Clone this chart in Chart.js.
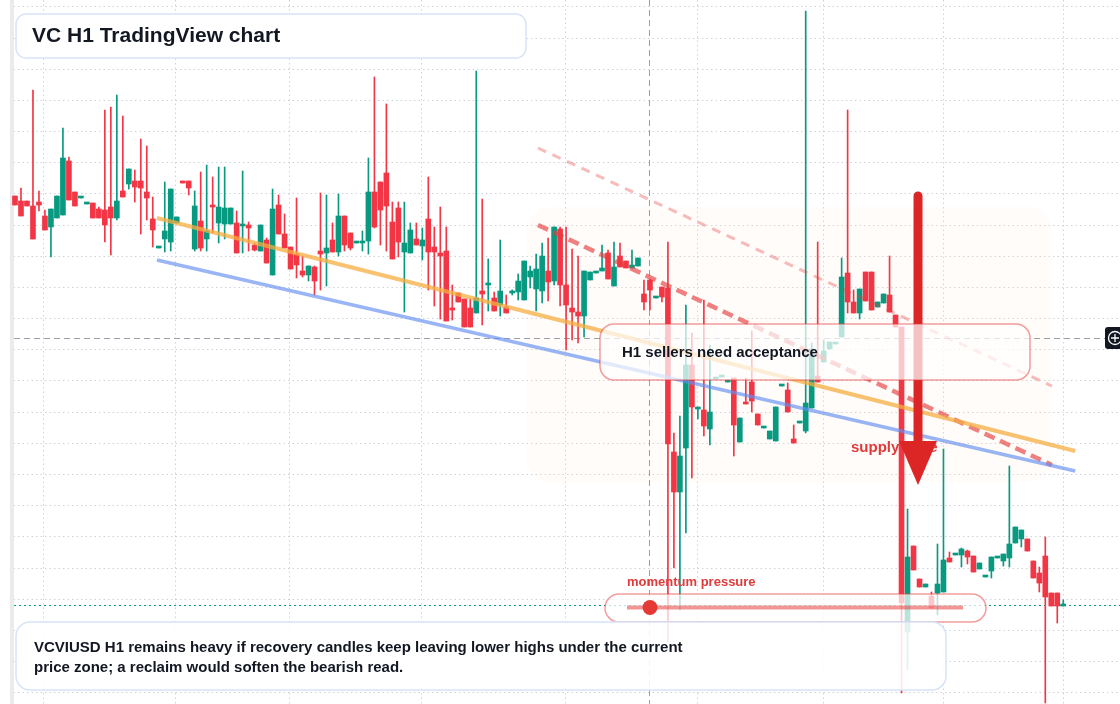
<!DOCTYPE html>
<html>
<head>
<meta charset="utf-8">
<script src="https://cdn.jsdelivr.net/npm/chart.js@4.4.1/dist/chart.umd.min.js"></script>
<style>
  html, body { margin: 0; padding: 0; background: #ffffff; }
  #wrap { width: 1120px; height: 704px; }
</style>
</head>
<body>
<div id="wrap"><canvas id="vcChart" width="1120" height="704"></canvas></div>
<script>
// VCVIUSD H1 candles (price units are arbitrary, no axis shown)
const opens = [
  .804, .799, .799, .794, .798, .784, .773, .782, .785, .839, .808, .802, .796, .797, .791, .790, .793, .782, .809, .816,
  .819, .819, .808, .781, .752, .761, .758, .777, .819, .819, .751, .779, .761, .794, .777, .776, .776, .777, .774, .775,
  .755, .749, .760, .725, .795, .766, .753, .746, .729, .725, .733, .749, .747, .760, .748, .784, .767, .757, .757, .759,
  .808, .818, .827, .778, .792, .748, .747, .761, .754, .781, .753, .747, .749, .692, .707, .701, .692, .687, .709, .715,
  .702, .695, .693, .707, .708, .700, .723, .711, .709, .729, .719, .771, .715, .692, .688, .684, .720, .727, .729, .747,
  .714, .744, .739, .732, .734, .706, .720, .702, .713, .712, .548, .508, .552, .635, .591, .590, .571, .621, .623, .618,
  .622, .558, .598, .618, .586, .572, .561, .559, .614, .610, .561, .577, .569, .592, .624, .638, .651, .656, .663, .727,
  .698, .687, .728, .728, .693, .697, .705, .685, .673, .368, .454, .421, .413, .404, .407, .408, .442, .445, .445, .449,
  .444, .431, .423, .429, .442, .439, .442, .457, .461, .461, .439, .427, .444, .407, .407, .394
];
const highs = [
  .804, .812, .799, .910, .809, .790, .791, .804, .872, .843, .808, .802, .796, .797, .793, .890, .893, .905, .884, .831,
  .830, .861, .854, .803, .752, .818, .811, .783, .819, .819, .809, .828, .835, .823, .833, .833, .792, .789, .829, .778,
  .757, .775, .762, .811, .805, .786, .753, .802, .744, .734, .734, .807, .805, .777, .806, .784, .767, .757, .769, .842,
  .923, .818, .896, .798, .798, .798, .777, .777, .772, .823, .773, .793, .773, .715, .707, .701, .701, .929, .801, .741,
  .708, .760, .705, .710, .726, .739, .734, .746, .757, .762, .773, .773, .773, .751, .744, .729, .728, .727, .755, .750,
  .758, .757, .739, .750, .742, .720, .721, .702, .713, .758, .567, .584, .695, .667, .593, .700, .655, .621, .623, .618,
  .622, .582, .622, .669, .586, .572, .569, .593, .614, .617, .575, .577, .989, .657, .758, .660, .658, .656, .742, .890,
  .710, .711, .728, .728, .698, .706, .744, .685, .673, .491, .454, .421, .416, .408, .456, .551, .448, .445, .452, .450,
  .444, .437, .423, .443, .442, .446, .534, .473, .470, .461, .439, .433, .463, .407, .407, .400
];
const lows = [
  .795, .784, .794, .761, .789, .770, .743, .782, .785, .800, .794, .802, .796, .782, .782, .758, .745, .780, .803, .811,
  .798, .766, .780, .753, .752, .748, .749, .777, .817, .805, .749, .749, .749, .767, .757, .761, .776, .747, .747, .749,
  .749, .749, .737, .725, .766, .752, .731, .722, .723, .719, .705, .710, .714, .748, .744, .749, .750, .757, .749, .746,
  .772, .755, .749, .741, .743, .688, .747, .755, .740, .710, .694, .681, .679, .680, .698, .673, .673, .687, .675, .689,
  .689, .684, .687, .705, .700, .700, .712, .689, .697, .699, .715, .694, .650, .660, .657, .663, .720, .727, .729, .721,
  .714, .733, .732, .732, .734, .690, .690, .702, .698, .358, .432, .390, .467, .522, .581, .564, .555, .621, .623, .618,
  .544, .558, .596, .588, .575, .572, .561, .559, .614, .588, .557, .577, .567, .592, .618, .638, .651, .656, .663, .687,
  .687, .681, .699, .690, .693, .697, .688, .673, .307, .330, .430, .413, .413, .392, .385, .408, .438, .445, .433, .436,
  .428, .431, .423, .422, .442, .434, .433, .457, .453, .449, .422, .408, .297, .394, .377, .394
];
const closes = [
  .795, .784, .794, .761, .795, .770, .791, .804, .842, .800, .794, .802, .796, .782, .782, .775, .782, .799, .803, .831,
  .813, .812, .802, .770, .752, .769, .811, .783, .817, .812, .794, .752, .769, .793, .793, .792, .792, .747, .774, .772,
  .750, .775, .737, .791, .766, .752, .731, .735, .725, .734, .719, .746, .752, .748, .784, .755, .752, .757, .758, .808,
  .773, .790, .794, .741, .758, .757, .770, .755, .760, .748, .748, .744, .679, .690, .698, .673, .673, .702, .706, .717,
  .689, .709, .687, .709, .719, .739, .729, .731, .744, .718, .773, .715, .695, .688, .684, .729, .728, .727, .732, .721,
  .733, .733, .732, .735, .742, .698, .710, .702, .703, .556, .508, .544, .635, .593, .593, .574, .588, .621, .623, .618,
  .575, .582, .596, .599, .575, .572, .569, .593, .614, .588, .557, .577, .597, .651, .618, .649, .658, .656, .723, .698,
  .687, .711, .699, .690, .698, .706, .688, .673, .397, .443, .430, .413, .416, .392, .416, .440, .438, .445, .451, .443,
  .428, .437, .423, .443, .442, .446, .456, .473, .470, .449, .422, .417, .403, .394, .394, .395
];

// drawn levels (bar index, price)
const upperTrend = [{ x: 23.7, y: 0.782 }, { x: 177.0, y: 0.549 }];
const lowerTrend = [{ x: 23.7, y: 0.740 }, { x: 177.0, y: 0.529 }];
const sellerLine = [{ x: 87.3, y: 0.775 }, { x: 173.1, y: 0.535 }];
const sellerLineFaint = [{ x: 87.3, y: 0.852 }, { x: 173.1, y: 0.614 }];
const zone = { from: 85.5, to: 173.1, high: 0.793, low: 0.518 };
const arrow = { x: 150.75, from: 0.804, to: 0.515 };
const crosshair = { x: 105.9, y: 0.662 };

// tick positions for the grid (time separators, price steps)
const timeGrid = [4.72, 26.76, 45.79, 67.90, 91.82, 113.97, 134.94, 154.97, 175.0];
const priceGrid = [];
for (let n = -2; n <= 20; n++) priceGrid.push(0.9307 - 0.03117 * n);

const upColor = "#089981";
const downColor = "#f23645";
const candleColors = opens.map((o, i) => (closes[i] >= o ? upColor : downColor));
const wickData = opens.map((o, i) => ({ x: i, y: [lows[i], highs[i]] }));
const bodyData = opens.map((o, i) => ({ x: i, y: [o, closes[i]] }));

const font = '"Liberation Sans", Arial, sans-serif';

const overlay = {
  id: "overlay",
  beforeDatasetsDraw(chart) {
    const { ctx } = chart;
    const xs = chart.scales.x, ys = chart.scales.y;
    ctx.save();
    ctx.fillStyle = "#ffffff";
    ctx.fillRect(0, 0, 10, 704);
    ctx.fillStyle = "#ebebeb";
    ctx.fillRect(10, 0, 4, 704);

    // zone
    const zx1 = xs.getPixelForValue(zone.from), zx2 = xs.getPixelForValue(zone.to);
    const zy1 = ys.getPixelForValue(zone.high), zy2 = ys.getPixelForValue(zone.low);
    ctx.fillStyle = "rgba(255, 232, 212, 0.14)";
    ctx.beginPath();
    ctx.roundRect(zx1, zy1, zx2 - zx1, zy2 - zy1, 24);
    ctx.fill();

    // crosshair
    ctx.strokeStyle = "#9a9ea8";
    ctx.lineWidth = 1;
    ctx.setLineDash([6, 4]);
    const cx = Math.round(xs.getPixelForValue(crosshair.x)) + 0.5;
    const cy = Math.round(ys.getPixelForValue(crosshair.y)) + 0.5;
    ctx.beginPath();
    ctx.moveTo(cx, 0); ctx.lineTo(cx, 704);
    ctx.moveTo(14, cy); ctx.lineTo(1105, cy);
    ctx.stroke();

    // last price
    const ly = Math.round(ys.getPixelForValue(closes[closes.length - 1])) + 0.5;
    ctx.strokeStyle = upColor;
    ctx.setLineDash([2, 3]);
    ctx.beginPath();
    ctx.moveTo(14, ly); ctx.lineTo(1120, ly);
    ctx.stroke();
    ctx.restore();
  },
  afterDatasetsDraw(chart) {
    const { ctx } = chart;
    const xs = chart.scales.x, ys = chart.scales.y;
    ctx.save();
    ctx.textBaseline = "middle";

    // supply zone label, under the arrow
    ctx.fillStyle = "#e03b3b";
    ctx.font = "bold 15px " + font;
    ctx.fillText("supply zone", 851, 448);

    // arrow
    const ax = xs.getPixelForValue(arrow.x);
    const ay1 = ys.getPixelForValue(arrow.from);
    const ay2 = ys.getPixelForValue(arrow.to);
    ctx.strokeStyle = "#dc2626";
    ctx.fillStyle = "#dc2626";
    ctx.lineWidth = 9;
    ctx.lineCap = "round";
    ctx.beginPath();
    ctx.moveTo(ax, ay1); ctx.lineTo(ax, ay2 - 42);
    ctx.stroke();
    ctx.beginPath();
    ctx.moveTo(ax - 19, ay2 - 44);
    ctx.lineTo(ax + 19, ay2 - 44);
    ctx.lineTo(ax, ay2);
    ctx.closePath();
    ctx.fill();

    // note box
    ctx.lineWidth = 1.5;
    ctx.fillStyle = "rgba(255,255,255,0.72)";
    ctx.strokeStyle = "rgba(229,62,62,0.5)";
    ctx.beginPath();
    ctx.roundRect(600, 324, 430, 56, 14);
    ctx.fill(); ctx.stroke();
    ctx.fillStyle = "#131722";
    ctx.font = "bold 15px " + font;
    ctx.fillText("H1 sellers need acceptance", 622, 353);

    // momentum gauge
    ctx.fillStyle = "#e03b3b";
    ctx.font = "bold 13px " + font;
    ctx.fillText("momentum pressure", 627, 582);
    ctx.fillStyle = "rgba(255,255,255,0.72)";
    ctx.strokeStyle = "rgba(229,62,62,0.5)";
    ctx.beginPath();
    ctx.roundRect(605, 594, 381, 28, 14);
    ctx.fill(); ctx.stroke();
    ctx.strokeStyle = "rgba(229,62,62,0.55)";
    ctx.lineWidth = 4;
    ctx.lineCap = "butt";
    ctx.beginPath();
    ctx.moveTo(627, 607.5); ctx.lineTo(963, 607.5);
    ctx.stroke();
    ctx.fillStyle = "#e53935";
    ctx.beginPath();
    ctx.arc(650, 607.5, 7.5, 0, Math.PI * 2);
    ctx.fill();

    // bottom comment
    ctx.lineWidth = 1.5;
    ctx.fillStyle = "rgba(255,255,255,0.88)";
    ctx.strokeStyle = "#d8e4f8";
    ctx.beginPath();
    ctx.roundRect(16, 622, 930, 68, 14);
    ctx.fill(); ctx.stroke();
    ctx.fillStyle = "#131722";
    ctx.font = "bold 15px " + font;
    ctx.fillText("VCVIUSD H1 remains heavy if recovery candles keep leaving lower highs under the current", 34, 648);
    ctx.fillText("price zone; a reclaim would soften the bearish read.", 34, 668);

    // title
    ctx.fillStyle = "#ffffff";
    ctx.strokeStyle = "#d8e4f8";
    ctx.beginPath();
    ctx.roundRect(16, 14, 510, 44, 10);
    ctx.fill(); ctx.stroke();
    ctx.fillStyle = "#131722";
    ctx.font = "bold 21px " + font;
    ctx.fillText("VC H1 TradingView chart", 32, 36);

    // crosshair badge
    ctx.fillStyle = "#131722";
    ctx.beginPath();
    ctx.roundRect(1105, 327, 20, 22, 3);
    ctx.fill();
    ctx.strokeStyle = "#ffffff";
    ctx.lineWidth = 1.3;
    ctx.beginPath();
    ctx.arc(1115, 338, 6.5, 0, Math.PI * 2);
    ctx.moveTo(1111, 338); ctx.lineTo(1119, 338);
    ctx.moveTo(1115, 334); ctx.lineTo(1115, 342);
    ctx.stroke();
    ctx.restore();
  },
};

const gridOpts = { color: "rgba(190,195,205,0.75)", lineWidth: 1, drawTicks: false, offset: false };

new Chart(document.getElementById("vcChart"), {
  type: "bar",
  data: {
    datasets: [
      { type: "line", data: upperTrend, borderColor: "rgba(246,173,66,0.75)", borderWidth: 4, pointRadius: 0, order: 0 },
      { type: "line", data: lowerTrend, borderColor: "rgba(99,142,240,0.65)", borderWidth: 3.5, pointRadius: 0, order: 0 },
      { type: "line", data: sellerLine, borderColor: "rgba(229,62,62,0.65)", borderWidth: 4.5, borderDash: [11, 6], pointRadius: 0, order: 0 },
      { type: "line", data: sellerLineFaint, borderColor: "rgba(229,62,62,0.35)", borderWidth: 3, borderDash: [9, 7], pointRadius: 0, order: 0 },
      { data: bodyData, backgroundColor: candleColors, barThickness: 5, minBarLength: 2, grouped: false, order: 1 },
      { data: wickData, backgroundColor: candleColors, barThickness: 1, grouped: false, order: 2 },
    ],
  },
  options: {
    responsive: false,
    devicePixelRatio: 1,
    animation: false,
    events: [],
    layout: { padding: 0 },
    plugins: { legend: { display: false }, tooltip: { enabled: false } },
    scales: {
      x: {
        type: "linear",
        min: -2.504,
        max: 184.47,
        offset: false,
        grid: gridOpts,
        border: { display: false, dash: [1.5, 3] },
        ticks: { display: false },
        afterBuildTicks: (s) => { s.ticks = timeGrid.map((v) => ({ value: v })); },
      },
      y: {
        type: "linear",
        min: 0.296,
        max: 1.0,
        grid: gridOpts,
        border: { display: false, dash: [1.5, 3] },
        ticks: { display: false },
        afterBuildTicks: (s) => { s.ticks = priceGrid.map((v) => ({ value: v })); },
      },
    },
  },
  plugins: [overlay],
});
</script>
</body>
</html>
